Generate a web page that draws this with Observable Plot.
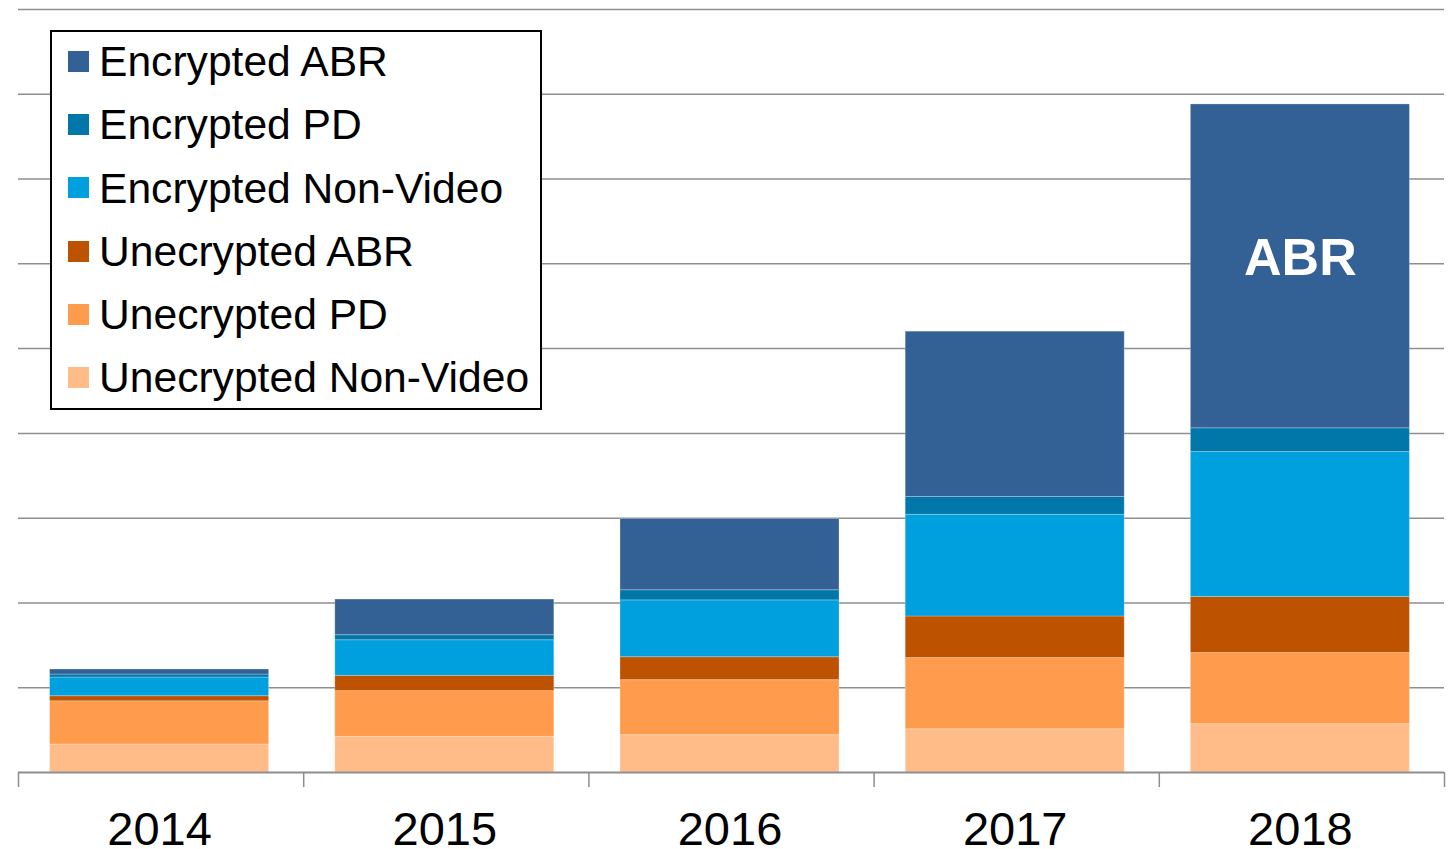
<!DOCTYPE html>
<html><head><meta charset="utf-8">
<script src="https://cdn.jsdelivr.net/npm/d3@7"></script>
<script src="https://cdn.jsdelivr.net/npm/@observablehq/plot@0.6"></script>
<style>
body{margin:0;background:#fff;font-family:"Liberation Sans",Arial,sans-serif;}
#wrap{position:relative;width:1455px;height:849px;}
#legend{position:absolute;left:50px;top:30px;width:492px;height:380px;box-sizing:border-box;border:2px solid #000;background:#fff;}
#legend .inner{margin-top:-2px;}
.row{display:flex;align-items:center;height:63.2px;font-size:42.6px;color:#000;white-space:nowrap;line-height:1;}
.sw{width:21px;height:21px;margin-left:16px;margin-right:10px;flex:none;}
</style></head><body><div id="wrap"></div>
<script>
const years = ["2014", "2015", "2016", "2017", "2018"];
// legend order (top to bottom)
const seriesNames = ["Encrypted ABR", "Encrypted PD", "Encrypted Non-Video", "Unecrypted ABR", "Unecrypted PD", "Unecrypted Non-Video"];
const seriesColors = ["#336195", "#0077A8", "#00A0DF", "#BD5200", "#FF9B4D", "#FFBC88"];
// values per series (one per year), unit = one gridline step
const encryptedABR      = [0.06, 0.42, 0.84, 1.95, 3.82];
const encryptedPD       = [0.035, 0.06, 0.12, 0.21, 0.28];
const encryptedNonVideo = [0.22, 0.42, 0.67, 1.20, 1.71];
const unencryptedABR    = [0.06, 0.18, 0.27, 0.49, 0.66];
const unencryptedPD     = [0.51, 0.54, 0.65, 0.84, 0.84];
const unencryptedNonVid = [0.33, 0.42, 0.44, 0.51, 0.57];
const gridValues = [1, 2, 3, 4, 5, 6, 7, 8, 9];
const annotation = {year: "2018", series: "Encrypted ABR", text: "ABR"};

const valuesBySeries = {
  "Encrypted ABR": encryptedABR,
  "Encrypted PD": encryptedPD,
  "Encrypted Non-Video": encryptedNonVideo,
  "Unecrypted ABR": unencryptedABR,
  "Unecrypted PD": unencryptedPD,
  "Unecrypted Non-Video": unencryptedNonVid
};
const stackOrder = seriesNames.slice().reverse(); // bottom-up
const table = [];
years.forEach((year, i) => {
  stackOrder.forEach(s => table.push({year, series: s, value: valuesBySeries[s][i]}));
});

// annotation y: middle of the labelled segment
const ai = years.indexOf(annotation.year);
let base = 0;
for (const s of stackOrder) { if (s === annotation.series) break; base += valuesBySeries[s][ai]; }
const annoData = [{year: annotation.year, y: base + valuesBySeries[annotation.series][ai] / 2, text: annotation.text}];

const W = 1455, H = 849, mL = 18, mR = 11, mT = 9, mB = 77;
const step = (W - mL - mR) / years.length;
const gray = "#8e8e8e";
const font = '"Liberation Sans", Arial, sans-serif';

const chart = Plot.plot({
  width: W, height: H,
  marginLeft: mL, marginRight: mR, marginTop: mT, marginBottom: mB,
  x: {domain: years, paddingInner: 0.232, paddingOuter: 0.116, round: false},
  y: {domain: [0, 9], axis: null},
  color: {domain: seriesNames, range: seriesColors},
  style: {fontFamily: font, background: "#fff", color: "#000"},
  marks: [
    Plot.ruleY(gridValues, {y: d => d, stroke: gray, strokeWidth: 1.5}),
    Plot.barY(table, {x: "year", y: "value", fill: "series", stroke: "#ffffff", strokeOpacity: 0.25, strokeWidth: 1, dx: -1.5}),
    Plot.ruleY([0], {stroke: gray, strokeWidth: 2.2}),
    Plot.ruleX(years, {x: d => d, dx: -step / 2, insetTop: H - mT - mB, insetBottom: -15, stroke: gray, strokeWidth: 1.5}),
    Plot.ruleX(years.slice(-1), {x: d => d, dx: step / 2, insetTop: H - mT - mB, insetBottom: -15, stroke: gray, strokeWidth: 1.5}),
    Plot.axisX({tickSize: 0, tickPadding: 39.5, fontSize: 47, fill: "#000", label: null, dx: -1.5}),
    Plot.text(annoData, {x: "year", y: "y", text: "text", fill: "#fff", fontSize: 52, fontWeight: "bold", dy: -8, dx: -1.5})
  ]
});
const wrap = document.getElementById("wrap");
wrap.appendChild(chart);

const legend = document.createElement("div");
legend.id = "legend";
const inner = document.createElement("div");
inner.className = "inner";
seriesNames.forEach((s, i) => {
  const row = document.createElement("div");
  row.className = "row";
  const sw = document.createElement("span");
  sw.className = "sw";
  sw.style.background = seriesColors[i];
  const t = document.createElement("span");
  t.textContent = s;
  row.appendChild(sw); row.appendChild(t);
  inner.appendChild(row);
});
legend.appendChild(inner);
wrap.appendChild(legend);
</script>
</body></html>
